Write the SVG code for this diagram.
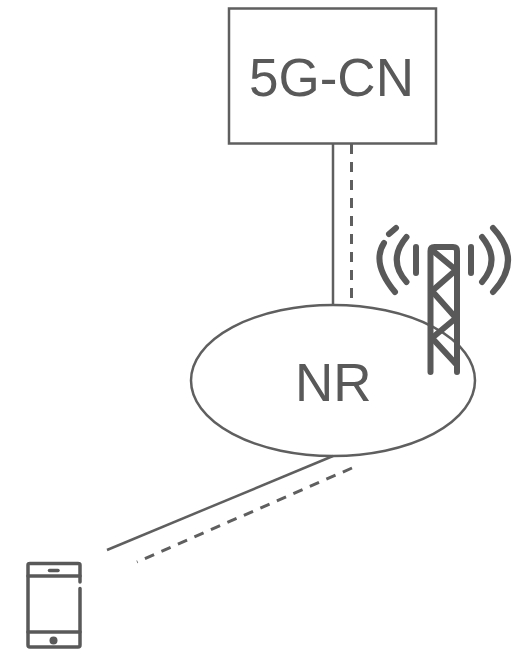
<svg xmlns="http://www.w3.org/2000/svg" width="513" height="649" viewBox="0 0 513 649">
<style>
.s{fill:none;stroke:#5f5f5f;stroke-width:2.500}
.d{stroke-width:3;stroke-dasharray:10 8}
.t{fill:#595959;font-family:"Liberation Sans",Arial,sans-serif;font-size:53px}
.i{fill:none;stroke:#595959;stroke-width:6;stroke-linecap:round;stroke-linejoin:round}
.p{fill:none;stroke:#595959;stroke-width:3.500;stroke-linecap:round;stroke-linejoin:round}
</style>
<rect width="513" height="649" fill="#fff"/>
<g id="connectors">
<path class="s" d="M333 144V305"/>
<path class="s d" d="M351.500 144V298"/>
<path class="s" d="M333 456L107 550"/>
<path class="s d" d="M352 468L137 562"/>
</g>
<g id="core">
<rect class="s" x="229" y="8.500" width="207" height="135"/>
<text class="t" x="249" y="96">5G-CN</text>
</g>
<g id="nr">
<ellipse class="s" cx="333" cy="380.500" rx="142" ry="75.500"/>
<text class="t" x="295" y="401">NR</text>
</g>
<g id="tower">
<path class="i" d="M430.500 372V251Q430.500 247 434.500 247H453Q457 247 457 251V372"/>
<path class="i" d="M432 250L456 270L432 291L456 318L432 338L456 364"/>
<path class="i" d="M416 247V273M471 247V273"/>
<path class="i" d="M406.500 237Q387 260 406.500 282"/>
<path class="i" d="M395 292Q371 263 384 243M389 234L396 228"/>
<path class="i" d="M482 237Q501 260 482 282"/>
<path class="i" d="M493 228Q523 260 493 292"/>
</g>
<g id="phone">
<path class="p" d="M80 582V565Q80 563.500 78 563.500H30Q28 563.500 28 565V645Q28 647 30 647H78Q80 647 80 645V588.500"/>
<path class="p" d="M28 576H80M28 632H80"/>
<path class="p" d="M49.500 570.500H58"/>
<circle cx="53.500" cy="640.500" r="4" fill="#595959"/>
</g>
</svg>
